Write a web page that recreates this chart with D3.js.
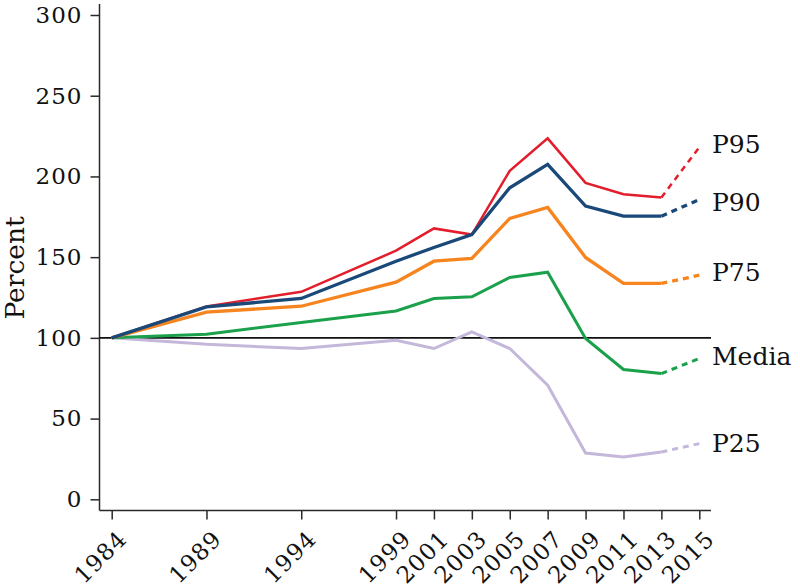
<!DOCTYPE html>
<html>
<head>
<meta charset="utf-8">
<script src="https://cdn.jsdelivr.net/npm/d3@7"></script>
<style>
  html, body { margin: 0; padding: 0; background: #fff; }
  svg { display: block; }
  text { font-family: "DejaVu Serif", serif; fill: #111; }
</style>
</head>
<body>
<svg id="chart" width="800" height="588"></svg>
<script>
const years = [1984, 1989, 1994, 1999, 2001, 2003, 2005, 2007, 2009, 2011, 2013];
const projYears = [2013, 2015];
const xTicks = [1984, 1989, 1994, 1999, 2001, 2003, 2005, 2007, 2009, 2011, 2013, 2015];
const yTicks = [0, 50, 100, 150, 200, 250, 300];

const p95 = [100, 119.5, 128.5, 154, 167.8, 164, 203.5, 223.6, 196, 189, 187];
const p90 = [100, 119.2, 124.4, 147.5, 156, 164, 193, 207.5, 181.6, 175.4, 175.4];
const p75 = [100, 116, 119.6, 134.5, 147.5, 149.2, 174, 180.8, 149.8, 133.7, 133.7];
const median = [100, 102.3, 109.5, 116.7, 124.4, 125.4, 137.4, 140.7, 99.6, 80.4, 77.9];
const p25 = [100, 96, 93.4, 98.5, 93.4, 103.7, 93.4, 70.7, 28.7, 26.2, 29.3];

const p95Proj = [187, 218];
const p90Proj = [175.4, 185.7];
const p75Proj = [133.7, 138.8];
const medianProj = [77.9, 87.2];
const p25Proj = [29.3, 34.5];

const seriesNames = ["P25", "Media", "P75", "P95", "P90"];
const seriesColors = ["#c4b7da", "#1ba14b", "#f6841f", "#e31e2c", "#1a4878"];

const series = [
  { name: seriesNames[0], values: p25, proj: p25Proj, color: seriesColors[0], w: 3, labelY: 452 },
  { name: seriesNames[1], values: median, proj: medianProj, color: seriesColors[1], w: 3, labelY: 365 },
  { name: seriesNames[2], values: p75, proj: p75Proj, color: seriesColors[2], w: 3.3, labelY: 281 },
  { name: seriesNames[3], values: p95, proj: p95Proj, color: seriesColors[3], w: 2.5, labelY: 153 },
  { name: seriesNames[4], values: p90, proj: p90Proj, color: seriesColors[4], w: 3.3, labelY: 211 }
];

const svg = d3.select("#chart");
const x = d3.scaleLinear().domain([1984, 2015]).range([111.7, 699.3]);
const y = d3.scaleLinear().domain([0, 300]).range([499.3, 15]);

const axisColor = "#2a2a2a";

// Y axis
const yAxis = svg.append("g")
  .attr("transform", "translate(99.5,0)")
  .call(d3.axisLeft(y).tickValues(yTicks).tickSize(9).tickPadding(8));
yAxis.select(".domain").remove();
yAxis.selectAll(".tick line").attr("stroke", axisColor).attr("stroke-width", 1.5);
yAxis.selectAll(".tick text").style("font-size", "23px").style("letter-spacing", "1px")
  .attr("fill", "#111").attr("font-family", "DejaVu Serif");
svg.append("line").attr("x1", 99.5).attr("x2", 99.5).attr("y1", 4).attr("y2", 510.5)
  .attr("stroke", axisColor).attr("stroke-width", 1.5);

// X axis
const xAxis = svg.append("g")
  .attr("transform", "translate(0,510.5)")
  .call(d3.axisBottom(x).tickValues(xTicks).tickFormat(d3.format("d")).tickSize(9).tickPadding(0));
xAxis.select(".domain").remove();
xAxis.selectAll(".tick line").attr("stroke", axisColor).attr("stroke-width", 1.5);
xAxis.selectAll(".tick text")
  .style("font-size", "23px").style("letter-spacing", "1px")
  .attr("fill", "#111").attr("font-family", "DejaVu Serif")
  .attr("text-anchor", "end")
  .attr("dy", null).attr("y", null)
  .attr("transform", "translate(16,30) rotate(-45)");
svg.append("line").attr("x1", 99.5).attr("x2", 711).attr("y1", 510.5).attr("y2", 510.5)
  .attr("stroke", axisColor).attr("stroke-width", 1.5);

// Reference line at 100
svg.append("line")
  .attr("x1", 99.5).attr("x2", 711)
  .attr("y1", y(100)).attr("y2", y(100))
  .attr("stroke", "#111").attr("stroke-width", 1.8);

const line = d3.line().x(d => x(d[0])).y(d => y(d[1]));

series.forEach(s => {
  const pts = years.map((yr, i) => [yr, s.values[i]]);
  svg.append("path")
    .attr("d", line(pts))
    .attr("fill", "none")
    .attr("stroke", s.color)
    .attr("stroke-width", s.w)
    .attr("stroke-linejoin", "miter");
  const pp = projYears.map((yr, i) => [yr, s.proj[i]]);
  svg.append("path")
    .attr("d", line(pp))
    .attr("fill", "none")
    .attr("stroke", s.color)
    .attr("stroke-width", s.w)
    .attr("stroke-dasharray", "6,5");
  svg.append("text")
    .attr("x", 712)
    .attr("y", s.labelY)
    .style("font-size", "25px")
    .text(s.name);
});

// Y label
svg.append("text")
  .attr("transform", "translate(24,268) rotate(-90)")
  .attr("text-anchor", "middle")
  .style("font-size", "26.5px")
  .text("Percent");
</script>
</body>
</html>
